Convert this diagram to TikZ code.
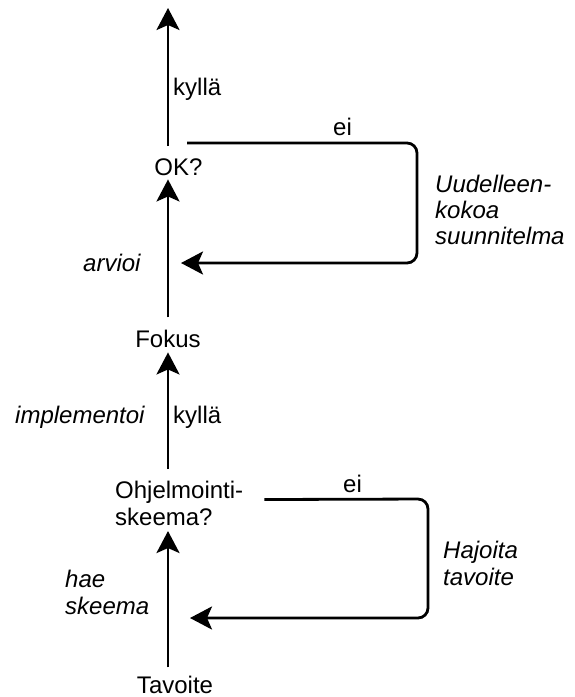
\documentclass[tikz,border=0pt]{standalone}
\usepackage{fontspec}
\setmainfont{Liberation Sans}
\usetikzlibrary{arrows.meta}
\begin{document}
\begin{tikzpicture}[x=1pt,y=-1pt,
  lbl/.style={inner sep=0pt, font=\fontsize{24}{27}\selectfont},
  ilbl/.style={lbl, font=\fontsize{24}{27}\selectfont\itshape},
  arr/.style={line width=2.8pt, -{Stealth[length=22pt,width=23pt,inset=5pt]}},
  loopline/.style={arr, rounded corners=10pt}]
\useasboundingbox (0,0) rectangle (575,697);
% nodes
\coordinate (top) at (168,8);
\node[lbl, anchor=base] (ok) at (178.5,175) {OK?};
\node[lbl, anchor=base] (fokus) at (168,347) {Fokus};
\node[lbl, anchor=north west, align=left] (ohj) at (115,481) {Ohjelmointi-\\skeema?};
\node[lbl, anchor=base] (tav) at (175,693) {Tavoite};
\coordinate (b1) at (181,263);
\coordinate (b2) at (190,618);
% labels
\node[lbl, anchor=base west] (k1) at (173,95) {kyllä};
\node[lbl, anchor=base west] (e1) at (333,135) {ei};
\node[ilbl, anchor=north west, align=left] (uud) at (435,174.5) {Uudelleen-\\[-1pt]kokoa\\[-1pt]suunnitelma};
\node[ilbl, anchor=base west] (arv) at (83,271) {arvioi};
\node[ilbl, anchor=base west] (imp) at (15,423) {implementoi};
\node[lbl, anchor=base west] (k2) at (173,423) {kyllä};
\node[lbl, anchor=base west] (e2) at (343,492) {ei};
\node[ilbl, anchor=north west, align=left] (haj) at (443,540.8) {Hajoita\\tavoite};
\node[ilbl, anchor=north west, align=left] (hae) at (65,570) {hae\\skeema};
% connectors
\draw[arr, shorten <=12pt] (ok.north -| top) -- (top);
\draw[arr, shorten <=12pt, shorten >=4pt] (fokus.north) -- (ok.south -| fokus.north);
\draw[arr, shorten <=12pt, shorten >=5pt] (ohj.north -| top) -- (fokus.south -| top);
\draw[arr, shorten <=8pt, shorten >=5pt] (tav.north -| top) -- (ohj.south -| top);
\draw[loopline] ([xshift=8.5pt,yshift=15pt]ok.north) -- (417,143) -- (417,263) -- (b1);
\draw[loopline] ([xshift=21pt,yshift=4pt]ohj.east) -- (428,499) -- (428,618) -- (b2);
\end{tikzpicture}
\end{document}
